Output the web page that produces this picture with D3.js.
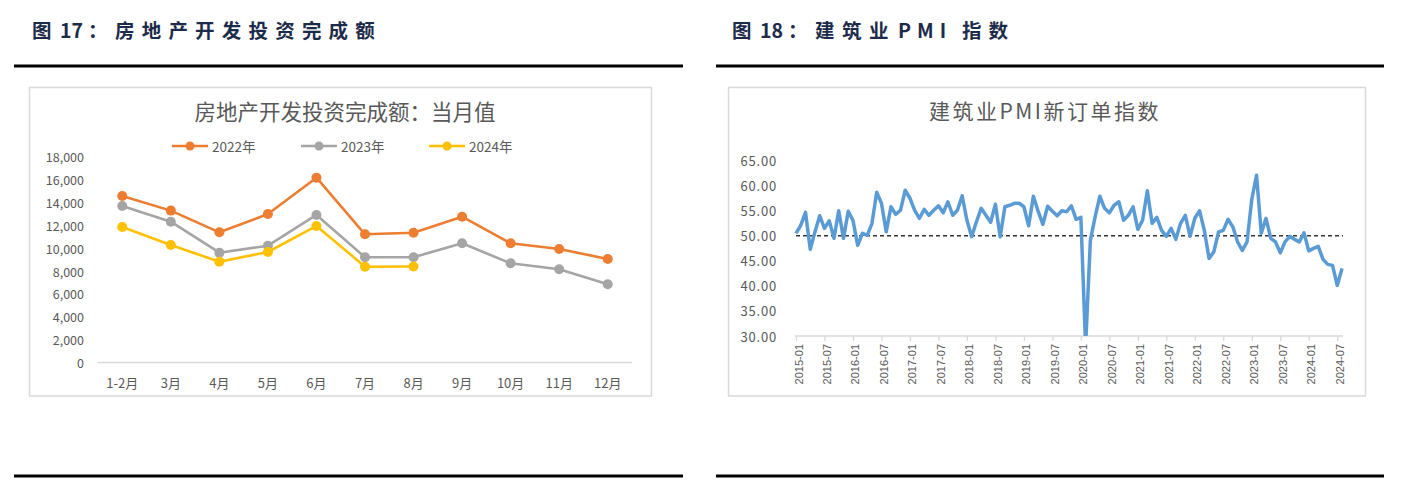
<!DOCTYPE html>
<html><head><meta charset="utf-8">
<script src="https://cdn.jsdelivr.net/npm/d3@7"></script>
<style>body{margin:0;background:#fff;} svg{display:block}</style>
</head><body>
<svg id="c" width="1411" height="492"></svg>
<script>
// ---------- data: left chart ----------
const months = ['1-2月','3月','4月','5月','6月','7月','8月','9月','10月','11月','12月'];
const s2022 = [14570, 13290, 11390, 12990, 16170, 11220, 11360, 12760, 10430, 9930, 9060];
const s2023 = [13700, 12320, 9610, 10220, 12910, 9210, 9210, 10430, 8680, 8160, 6850];
const s2024 = [11860, 10280, 8820, 9670, 11950, 8385, 8400];
const seriesNames = ['2022年','2023年','2024年'];
const leftYTicks = [0,2000,4000,6000,8000,10000,12000,14000,16000,18000];

// ---------- data: right chart ----------
const pmiStart = '2015-01';
const pmiValues = [
  50.5, 52.1, 54.7, 47.3, 50.8, 54.0, 51.5, 53.0, 49.5, 55.0, 49.5, 54.9,
  53.1, 48.1, 50.5, 50.1, 52.5, 58.7, 56.5, 50.8, 55.8, 54.3, 55.1, 59.1,
  57.5, 55.1, 53.5, 55.3, 54.1, 55.1, 56.0, 54.6, 56.8, 54.1, 55.1, 58.0,
  53.1, 49.8, 52.8, 55.5, 54.1, 52.7, 56.3, 49.8, 55.8, 56.1, 56.5, 56.5,
  55.8, 52.0, 57.9, 54.9, 52.3, 55.9, 54.9, 54.0, 55.0, 54.8, 56.0, 53.3,
  53.7, 28.0, 49.1, 53.8, 57.9, 55.5, 54.6, 56.1, 56.8, 53.1, 54.1, 55.8,
  51.3, 53.1, 59.0, 52.5, 53.7, 51.1, 49.9, 51.5, 49.3, 52.5, 54.1, 49.9,
  53.5, 55.0, 51.1, 45.5, 46.8, 50.8, 51.1, 53.3, 51.8, 48.8, 47.1, 48.8,
  57.3, 62.1, 50.5, 53.5, 49.5, 48.8, 46.6, 48.8, 49.9, 49.3, 48.8, 50.6,
  47.0, 47.5, 47.9, 45.3, 44.3, 44.1, 40.1, 43.5
];
const pmiTickLabels = ['2015-01','2015-07','2016-01','2016-07','2017-01','2017-07','2018-01','2018-07','2019-01','2019-07',
  '2020-01','2020-07','2021-01','2021-07','2022-01','2022-07','2023-01','2023-07','2024-01','2024-07'];
const rightYTicks = [30,35,40,45,50,55,60,65];
const refLine = 50;

// ---------- drawing ----------
const svg = d3.select('#c');
const CJK = '"Noto Sans CJK SC","Noto Sans",sans-serif';
const HEAD = '#1d2b4a';
const TXT = '#595959';

// headers: pieces [text, x, letter-spacing]
function header(parts){
  const t = svg.append('text').attr('y', 38)
    .attr('font-family', CJK).attr('font-weight', 700).attr('font-size', 19.5).attr('fill', HEAD);
  parts.forEach(([s,x,ls])=>t.append('tspan').attr('x',x).attr('letter-spacing',ls).text(s));
}
header([['图',32,0],['17',60,0],['：',88,0],['房地产开发投资完成额',115,7.2]]);
header([['图',732,0],['18',760,0],['：',788,0],['建筑业',815,7.5],['PMI',898,6],['指数',962,7]]);

// rules
[[14,683],[716,1384]].forEach(([a,b])=>{
  svg.append('rect').attr('x',a).attr('y',64.5).attr('width',b-a).attr('height',3).attr('fill','#000');
  svg.append('rect').attr('x',a).attr('y',474.5).attr('width',b-a).attr('height',3).attr('fill','#000');
});

// frames
svg.append('rect').attr('x',29.5).attr('y',87.5).attr('width',622).attr('height',308.5)
  .attr('fill','#fff').attr('stroke','#d9d9d9').attr('stroke-width',1.5);
svg.append('rect').attr('x',728.5).attr('y',87.5).attr('width',637).attr('height',308.5)
  .attr('fill','#fff').attr('stroke','#d9d9d9').attr('stroke-width',1.5);

// ===== Left chart =====
const L = svg.append('g');
L.append('text').attr('x',345).attr('y',110).attr('text-anchor','middle').attr('dominant-baseline','central')
  .attr('font-family',CJK).attr('font-size',21.5).attr('fill',TXT).text('房地产开发投资完成额：当月值');

const xL = d3.scalePoint().domain(months).range([98, 632]).padding(0.5);
const yL = d3.scaleLinear().domain([0,18000]).range([362.5, 156.8]);

L.append('line').attr('x1',98).attr('x2',632).attr('y1',yL(0)).attr('y2',yL(0))
  .attr('stroke','#d9d9d9').attr('stroke-width',1.5);

const fmt = d3.format(',');
L.selectAll('.yl').data(leftYTicks).join('text')
  .attr('x',84).attr('y',d=>yL(d)).attr('text-anchor','end').attr('dominant-baseline','central')
  .attr('font-family',CJK).attr('font-size',12.5).attr('fill',TXT).text(d=>fmt(d));

L.selectAll('.xl').data(months).join('text')
  .attr('x',d=>xL(d)).attr('y',382).attr('text-anchor','middle').attr('dominant-baseline','central')
  .attr('font-family',CJK).attr('font-size',13).attr('fill',TXT).text(d=>d);

const colors = ['#ED7D31','#A5A5A5','#FFC000'];
const allSeries = [s2022, s2023, s2024];
const lineL = d3.line().x((d,i)=>xL(months[i])).y(d=>yL(d));
allSeries.forEach((s,k)=>{
  L.append('path').attr('d',lineL(s)).attr('fill','none').attr('stroke',colors[k]).attr('stroke-width',2.6)
   .attr('stroke-linejoin','round');
  L.selectAll('.m'+k).data(s).join('circle').attr('cx',(d,i)=>xL(months[i])).attr('cy',d=>yL(d))
   .attr('r',5).attr('fill',colors[k]);
});

const legX = [172, 301, 429];
seriesNames.forEach((n,k)=>{
  const g = L.append('g').attr('transform',`translate(${legX[k]},146)`);
  g.append('line').attr('x1',0).attr('x2',36).attr('stroke',colors[k]).attr('stroke-width',2.6);
  g.append('circle').attr('cx',18).attr('r',4.5).attr('fill',colors[k]);
  g.append('text').attr('x',40).attr('dominant-baseline','central').attr('font-family',CJK)
   .attr('font-size',13.5).attr('fill',TXT).text(n);
});

// ===== Right chart =====
const R = svg.append('g');
R.append('text').attr('x',1045).attr('y',110).attr('text-anchor','middle').attr('dominant-baseline','central')
  .attr('font-family',CJK).attr('font-size',21).attr('letter-spacing',2.5).attr('fill',TXT).text('建筑业PMI新订单指数');

const parse = d3.timeParse('%Y-%m');
const fmtM = d3.timeFormat('%Y-%m');
const startDate = parse(pmiStart);
const pmiDates = pmiValues.map((v,i)=>fmtM(d3.timeMonth.offset(startDate,i)));
const xR = d3.scalePoint().domain(pmiDates).range([796, 1342]);
const yR = d3.scaleLinear().domain([30,65]).range([336, 160.7]);

R.selectAll('.yr').data(rightYTicks).join('text')
  .attr('x',777).attr('y',d=>yR(d)).attr('text-anchor','end').attr('dominant-baseline','central')
  .attr('font-family',CJK).attr('font-size',13).attr('letter-spacing',0.8).attr('fill',TXT).text(d=>d.toFixed(2));

R.append('line').attr('x1',795).attr('x2',1343).attr('y1',336).attr('y2',336)
  .attr('stroke','#d9d9d9').attr('stroke-width',1.5);
const ax = R.append('g').attr('transform','translate(0,336)')
  .call(d3.axisBottom(xR).tickValues(pmiTickLabels).tickSize(5).tickSizeOuter(0).tickFormat(''));
ax.select('.domain').remove();
ax.selectAll('.tick line').attr('stroke','#d9d9d9').attr('stroke-width',1.3);
R.selectAll('.xr').data(pmiTickLabels).join('text')
  .attr('transform',d=>`translate(${xR(d)+2.5},344) rotate(-90)`)
  .attr('text-anchor','end').attr('dominant-baseline','central')
  .attr('font-family','"Liberation Sans",Arial,sans-serif').attr('font-size',11).attr('fill',TXT).text(d=>d);

svg.append('clipPath').attr('id','clipR').append('rect').attr('x',790).attr('y',150).attr('width',560).attr('height',186);

R.append('line').attr('x1',796).attr('x2',1343).attr('y1',yR(refLine)).attr('y2',yR(refLine))
  .attr('stroke','#333').attr('stroke-width',1.5).attr('stroke-dasharray','4,3');

const lineR = d3.line().x((d,i)=>xR(pmiDates[i])).y(d=>yR(d));
R.append('path').attr('d',lineR(pmiValues)).attr('clip-path','url(#clipR)')
  .attr('fill','none').attr('stroke','#5B9BD5').attr('stroke-width',3.5).attr('stroke-linejoin','round');
</script>
</body></html>
